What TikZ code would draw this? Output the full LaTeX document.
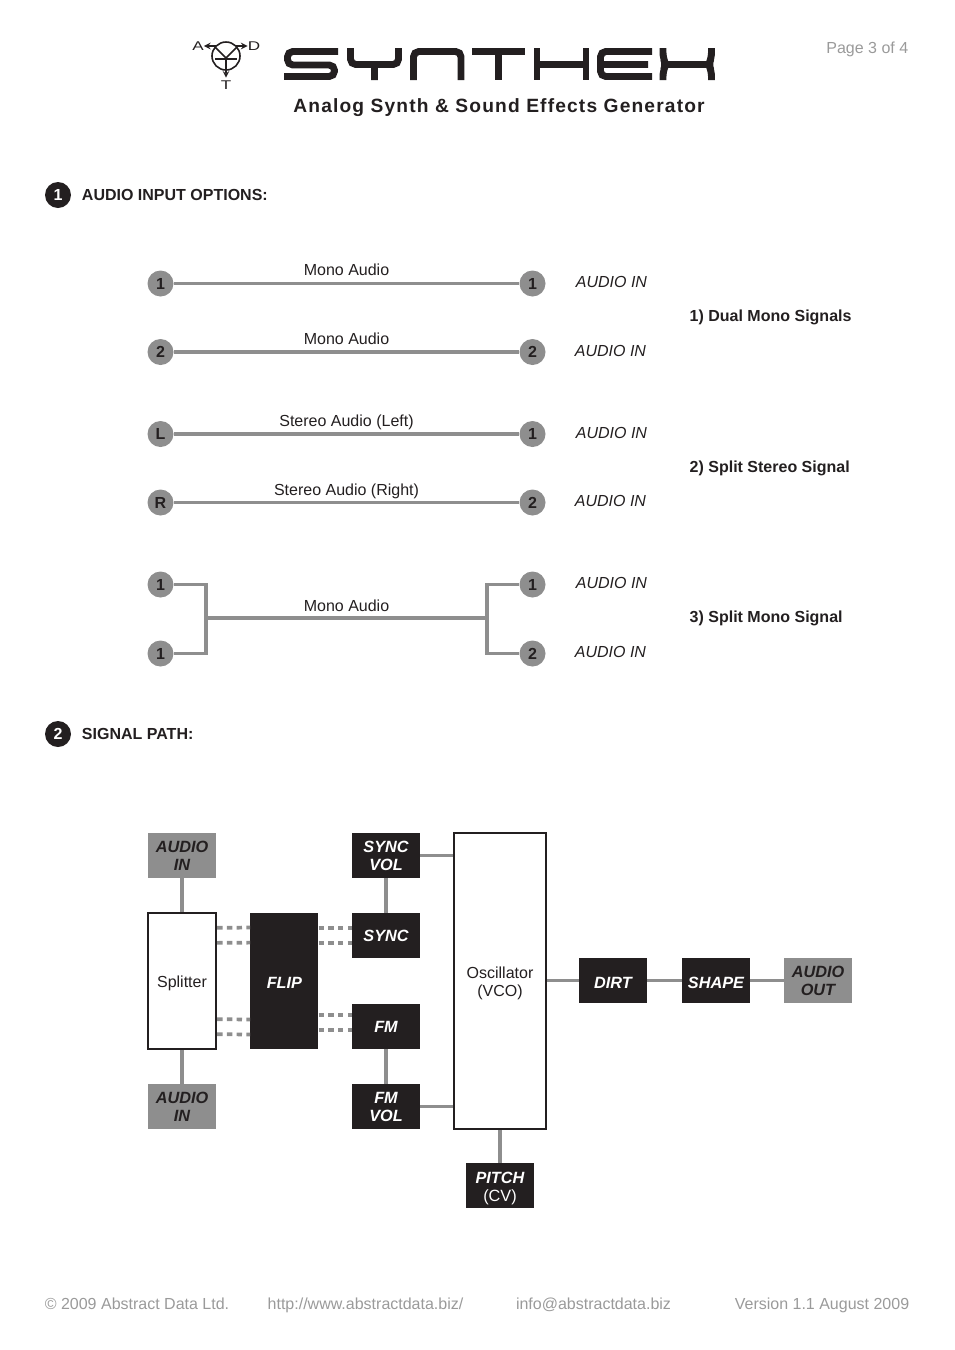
\documentclass[tikz,border=0pt]{standalone}
\usepackage{fontspec}
\setmainfont{Liberation Sans}
\newfontfamily\tagfont[LetterSpace=6]{Liberation Sans}
\newfontfamily\logofont[FakeStretch=1.35]{Liberation Sans}
\usepackage{tikz}
\usetikzlibrary{positioning, arrows}
\definecolor{wiregrey}{HTML}{8E8E8E}
\definecolor{boxblack}{HTML}{231F20}
\definecolor{footgrey}{HTML}{9A9A9A}
\tikzset{
	jack/.style={circle, fill=wiregrey, text=boxblack, inner sep=0pt, minimum size=19.5pt, font=\fontsize{12}{14}\selectfont\bfseries},
	badge/.style={circle, fill=boxblack, text=white, inner sep=0pt, minimum size=19.5pt, font=\fontsize{12}{14}\selectfont\bfseries},
	wire/.style={draw=wiregrey, line width=2.4pt},
	boxwire/.style={draw=wiregrey, line width=2.8pt},
	dashwire/.style={draw=wiregrey, line width=2.8pt, dash pattern=on 4pt off 3.3pt},
	heading/.style={anchor=west, text=boxblack, font=\fontsize{12}{14}\selectfont\bfseries},
	plain/.style={text=boxblack, text depth=0pt, font=\fontsize{12}{14}\selectfont},
	inlabel/.style={text=boxblack, font=\fontsize{12}{14}\selectfont\itshape},
	note/.style={anchor=west, text=boxblack, font=\fontsize{12}{14}\selectfont\bfseries},
	foot/.style={text=footgrey, anchor=base, inner sep=0pt, font=\fontsize{12}{14}\selectfont},
	logolabel/.style={text=boxblack, inner sep=0pt, font=\fontsize{9.5}{11}\selectfont\logofont},
	blackbox/.style={fill=boxblack, text=white, inner sep=0pt, align=center, minimum width=51pt, minimum height=33.75pt, font=\fontsize{12.2}{13.5}\selectfont\bfseries\itshape},
	greybox/.style={blackbox, fill=wiregrey, text=boxblack},
	openbox/.style={draw=boxblack, line width=1.8pt, fill=white, text=boxblack, inner sep=0pt, align=center, font=\fontsize{12}{13.5}\selectfont},
	logo/.style={draw=boxblack, line width=5.2pt, rounded corners=4pt},
}
\begin{document}
\begin{tikzpicture}[x=0.75pt, y=-0.75pt, node distance=24.7pt]
	\useasboundingbox (0,0) rectangle (954,1350);

	% header
	\node[circle, draw=boxblack, line width=1.2pt, inner sep=0pt, minimum size=21pt] (tr) at (226,56) {};
	\node[logolabel] (ta) at (198,46) {A};
	\node[logolabel] (td) at (254,46) {D};
	\node[logolabel, inner sep=2pt] (tt) at (226,85) {T};
	\coordinate (tj) at (226,58);
	\draw[boxblack, line width=1.2pt]
	(tj) -- (215,47)
	(tj) -- (237,47);
	\draw[boxblack, line width=1.7pt] (215,59) -- (237,59);
	\draw[boxblack, line width=1.2pt]
	(tr.135 |- ta) edge[->, >=stealth] (ta)
	(tr.45 |- td) edge[->, >=stealth] (td)
	(tj) edge[->, >=stealth] (tt);

	\draw[logo] (338,51.5) -- (287.5,51.5) -- (287.5,65) -- (334.5,65) -- (334.5,76.5) -- (284,76.5);
	\draw[logo] (350.5,48) -- (350.5,64.5) -- (398.5,64.5) -- (398.5,48) (374.5,64.5) -- (374.5,80);
	\draw[logo] (413.5,80) -- (413.5,51.5) -- (461,51.5) -- (461,80);
	\draw[logo] (472,51.5) -- (525,51.5) (498.5,51.5) -- (498.5,80);
	\draw[logo] (537,48) -- (537,80) (586,48) -- (586,80) (537,64.5) -- (586,64.5);
	\draw[logo] (652,51.5) -- (600.5,51.5) -- (600.5,76.5) -- (652,76.5) (600.5,64.5) -- (648,64.5);
	\draw[logo] (663,48) -- (663,58) -- (666,64.5) -- (663,71) -- (663,80) (711.5,48) -- (711.5,58) -- (708.5,64.5) -- (711.5,71) -- (711.5,80) (666,64.5) -- (708.5,64.5);

	\node[text=boxblack, font=\fontsize{14.4}{16}\selectfont\tagfont\bfseries] (tagline) at (499,108) {Analog Synth \& Sound Effects Generator};
	\node[foot, anchor=base east] (page) at (908.5,53) {Page 3 of 4};

	% section one
	\node[badge] (b1) at (58,195) {1};
	\node[heading, right=4.5pt of b1] (h1) {AUDIO INPUT OPTIONS:};

	\node[jack] (l1) at (160.5,283.5) {1};
	\node[jack] (r1) at (532.5,283.5) {1};
	\node[jack] (l2) at (160.5,352) {2};
	\node[jack] (r2) at (532.5,352) {2};
	\node[jack] (l3) at (160.5,434) {L};
	\node[jack] (r3) at (532.5,434) {1};
	\node[jack] (l4) at (160.5,502.5) {R};
	\node[jack] (r4) at (532.5,502.5) {2};
	\node[jack] (l5) at (160.5,584.5) {1};
	\node[jack] (r5) at (532.5,584.5) {1};
	\node[jack] (l6) at (160.5,653.5) {1};
	\node[jack] (r6) at (532.5,653.5) {2};
	\coordinate (jl) at (206,618);
	\coordinate (jr) at (487,618);

	\draw
	(l1) edge[wire] node[plain, above, yshift=1.2pt]{Mono Audio} (r1)
	(l2) edge[wire, line width=2.8pt] node[plain, above, yshift=0.8pt]{Mono Audio} (r2)
	(l3) edge[wire] node[plain, above, yshift=0.8pt]{Stereo Audio (Left)} (r3)
	(l4) edge[wire] node[plain, above, yshift=0.8pt]{Stereo Audio (Right)} (r4)
	(jl) edge[wire] node[plain, above, yshift=0.2pt]{Mono Audio} (jr);
	\draw[wire] (l5) -| (jl);
	\draw[wire] (l6) -| (jl);
	\draw[wire] (r5) -| (jr);
	\draw[wire] (r6) -| (jr);

	\node[inlabel] (a1) at (611.5,282) {AUDIO IN};
	\node[inlabel] (a2) at (610.5,351) {AUDIO IN};
	\node[inlabel] (a3) at (611.5,433) {AUDIO IN};
	\node[inlabel] (a4) at (610.5,501) {AUDIO IN};
	\node[inlabel] (a5) at (611.5,583) {AUDIO IN};
	\node[inlabel] (a6) at (610.5,652) {AUDIO IN};

	\node[note] (n1) at (685,317.5) {1) Dual Mono Signals};
	\node[note] (n2) at (685,468.5) {2) Split Stereo Signal};
	\node[note] (n3) at (685,618.5) {3) Split Mono Signal};

	% section two
	\node[badge] (b2) at (58,734) {2};
	\node[heading, right=4.5pt of b2] (h2) {SIGNAL PATH:};

	\node[greybox] (in1) at (182,855.5) {AUDIO\\IN};
	\node[greybox] (in2) at (182,1106.5) {AUDIO\\IN};
	\node[openbox, minimum width=51pt, minimum height=102pt, text height=11.7pt] (split) at (182,981) {Splitter};
	\node[blackbox, minimum height=102pt, text height=11pt, right=of split] (flip) {FLIP};
	\node[blackbox] (syncvol) at (386,855.5) {SYNC\\VOL};
	\node[blackbox] (sync) at (386,935.5) {SYNC};
	\node[blackbox] (fm) at (386,1026.5) {FM};
	\node[blackbox] (fmvol) at (386,1106.5) {FM\\VOL};
	\node[openbox, line width=2pt, minimum width=69pt, minimum height=222pt, text height=26pt] (vco) at (500,981) {Oscillator\\(VCO)};
	\node[blackbox, text height=11.5pt] (dirt) at (613,980.5) {DIRT};
	\node[blackbox, text height=11.5pt] (shape) at (716,980.5) {SHAPE};
	\node[greybox, text height=23pt] (out) at (818,980.5) {AUDIO\\OUT};
	\node[blackbox, text height=26pt] (pitch) at (500,1185.5) {PITCH\\{\normalfont (CV)}};

	\draw[boxwire] (in1) -- (split);
	\draw[boxwire] (in2) -- (split);
	\draw[boxwire] (syncvol) -- (sync);
	\draw[boxwire] (fmvol) -- (fm);
	\draw[boxwire] (syncvol.east) -- (syncvol.east -| vco.west);
	\draw[boxwire] (fmvol.east) -- (fmvol.east -| vco.west);
	\draw[boxwire] (vco) -- (pitch);
	\draw[boxwire] (dirt.west -| vco.east) -- (dirt);
	\draw[boxwire] (dirt) -- (shape);
	\draw[boxwire] (shape) -- (out);

	\draw[dashwire] ([yshift=-12pt]split.north east) -- ([yshift=-11.1pt]flip.north west);
	\draw[dashwire] ([yshift=-23.3pt]split.north east) -- ([yshift=-22.4pt]flip.north west);
	\draw[dashwire] ([yshift=23.25pt]split.south east) -- ([yshift=22.35pt]flip.south west);
	\draw[dashwire] ([yshift=12pt]split.south east) -- ([yshift=11.1pt]flip.south west);
	\draw[dashwire] ([yshift=-11.25pt]flip.north east) -- ([yshift=-11.25pt]sync.north west);
	\draw[dashwire] ([yshift=-22.5pt]flip.north east) -- ([yshift=-22.5pt]sync.north west);
	\draw[dashwire] ([yshift=-8.25pt]fm.north west -| flip.east) -- ([yshift=-8.25pt]fm.north west);
	\draw[dashwire] ([yshift=-19.5pt]fm.north west -| flip.east) -- ([yshift=-19.5pt]fm.north west);

	% footer
	\node[foot] (f1) at (137,1309) {© 2009 Abstract Data Ltd.};
	\node[foot] (f2) at (365.5,1309) {http://www.abstractdata.biz/};
	\node[foot] (f3) at (593.5,1309) {info@abstractdata.biz};
	\node[foot] (f4) at (822,1309) {Version 1.1 August 2009};
\end{tikzpicture}
\end{document}
